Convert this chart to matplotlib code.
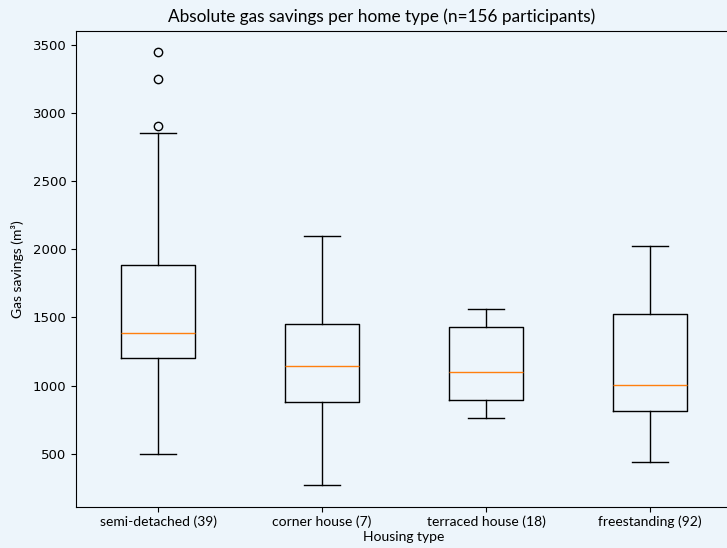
import matplotlib
matplotlib.use("Agg")
import matplotlib.pyplot as plt

# values
categories = ["semi-detached (39)", "corner house (7)", "terraced house (18)", "freestanding (92)"]
whisker_low = [497, 267, 760, 439]
q1 = [1201, 882, 895, 814]
median = [1385, 1142, 1096, 1007]
q3 = [1882, 1453, 1432, 1529]
whisker_high = [2853, 2098, 1561, 2024]
outliers = [[3449, 3250, 2904], [], [], []]

bg = "#edf5fb"
narrow = ["Lato", "DejaVu Sans"]

stats = []
for i, name in enumerate(categories):
    stats.append({
        "label": name,
        "whislo": whisker_low[i],
        "q1": q1[i],
        "med": median[i],
        "q3": q3[i],
        "whishi": whisker_high[i],
        "fliers": outliers[i],
    })

fig = plt.figure(figsize=(7.27, 5.48), dpi=100, facecolor=bg)
ax = fig.add_axes([76 / 727, 41 / 548, 656 / 727, 476.5 / 548])
ax.set_facecolor(bg)

ax.bxp(stats)

ax.set_xticks(range(1, len(categories) + 1))
ax.set_xticklabels(categories, family=narrow, fontsize=10)
ax.tick_params(axis="y", labelsize=9.5)
ax.tick_params(axis="x", pad=2.5)

ax.set_xlabel("Housing type", family=narrow, fontsize=10, labelpad=2)
ax.set_ylabel("Gas savings (m³)", family=narrow, fontsize=10, labelpad=6)
ax.set_title("Absolute gas savings per home type (n=156 participants)",
             family=narrow, fontsize=12.4, x=(382 - 76) / 656)

fig.savefig("out.png", dpi=100, facecolor=bg)
